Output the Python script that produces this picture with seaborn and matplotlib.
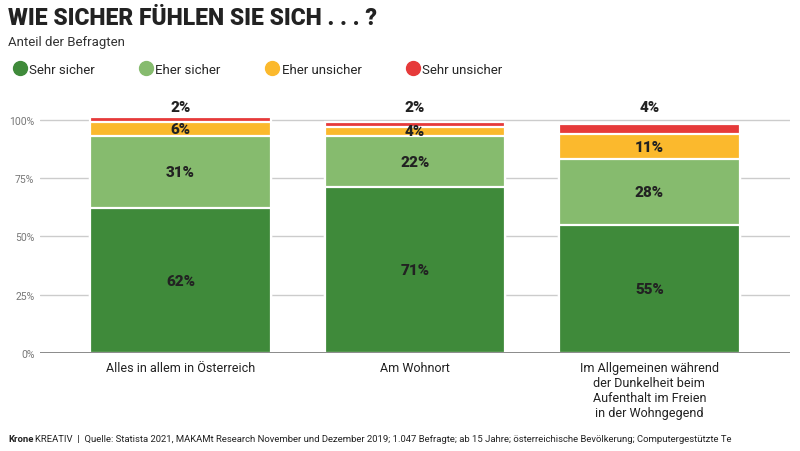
import numpy as np
import pandas as pd
import seaborn as sns
import matplotlib.pyplot as plt
from matplotlib.lines import Line2D

# Daten aus der Grafik
kategorien = ["Alles in allem in Österreich", "Am Wohnort",
              "Im Allgemeinen während\nder Dunkelheit beim\nAufenthalt im Freien\nin der Wohngegend"]
serien = ["Sehr sicher", "Eher sicher", "Eher unsicher", "Sehr unsicher"]
sehr_sicher = [62, 71, 55]
eher_sicher = [31, 22, 28]
eher_unsicher = [6, 4, 11]
sehr_unsicher = [2, 2, 4]
farben = ["#3f8a3a", "#86bb6e", "#fbb92d", "#e63a3a"]

werte = [sehr_sicher, eher_sicher, eher_unsicher, sehr_unsicher]
kumuliert = np.cumsum(np.array(werte), axis=0)

sns.set_style("white")
plt.rcParams['font.family'] = ['Roboto', 'DejaVu Sans']

fig = plt.figure(figsize=(8, 4.52), dpi=100)
ax = fig.add_axes([0.05, 0.217, 0.9375, 0.557])

# gestapelte Balken: kumulierte Summen von oben nach unten überlagern
for i in range(3, -1, -1):
    df = pd.DataFrame({"kat": kategorien, "wert": kumuliert[i]})
    sns.barplot(data=df, x="kat", y="wert", color=farben[i], width=0.77,
                edgecolor="white", linewidth=1.6, saturation=1, ax=ax, zorder=3)

ax.set_xlim(-0.6, 2.6)
ax.set_ylim(0, 108)
ax.set_yticks([0, 25, 50, 75, 100])
ax.set_yticklabels(["0%", "25%", "50%", "75%", "100%"], color="#777777", fontsize=7.5)
ax.tick_params(axis="y", length=0, pad=4)
ax.tick_params(axis="x", length=0, pad=6)
for t in ax.get_xticklabels():
    t.set_fontsize(9)
    t.set_color("#222222")
    t.set_va("top")
for y in [25, 50, 75, 100]:
    ax.axhline(y, color="#cccccc", linewidth=1, zorder=1)
ax.axhline(0, color="#777777", linewidth=1.2, zorder=4)
for s in ax.spines.values():
    s.set_visible(False)
ax.set_xlabel("")
ax.set_ylabel("")

# Beschriftungen
for j in range(3):
    for i in range(3):
        unten = kumuliert[i][j] - werte[i][j]
        ax.text(j, unten + werte[i][j] / 2, f"{werte[i][j]}%", ha="center", va="center",
                fontsize=11, fontweight="heavy", color="#222222", zorder=5)
    ax.text(j, 105.5, f"{sehr_unsicher[j]}%", ha="center", va="center",
            fontsize=11, fontweight="heavy", color="#222222", zorder=5)

# Titel
fig.text(0.01, 0.958, "WIE SICHER FÜHLEN SIE SICH . . . ?", fontsize=16.5,
         fontweight="heavy", color="#222222", va="center")
fig.text(0.01, 0.905, "Anteil der Befragten", fontsize=9.5, color="#333333", va="center")

# Legende
handles = [Line2D([0], [0], marker="o", linestyle="", markersize=10,
                  markerfacecolor=c, markeredgecolor=c) for c in farben]
fig.legend(handles, serien, loc="center left", bbox_to_anchor=(0.0, 0.845),
           ncol=4, frameon=False, fontsize=9.5, handletextpad=0.1,
           columnspacing=3.3, handlelength=1.2)

# Quelle
fig.text(0.01, 0.027, "Krone", fontsize=6.8, fontweight="bold", color="#222222", va="center")
fig.text(0.044, 0.027, "KREATIV  |  Quelle: Statista 2021, MAKAMt Research November und Dezember 2019; "
         "1.047 Befragte; ab 15 Jahre; österreichische Bevölkerung; Computergestützte Te",
         fontsize=6.8, color="#222222", va="center")

fig.savefig("out.png", dpi=100, facecolor="white")
